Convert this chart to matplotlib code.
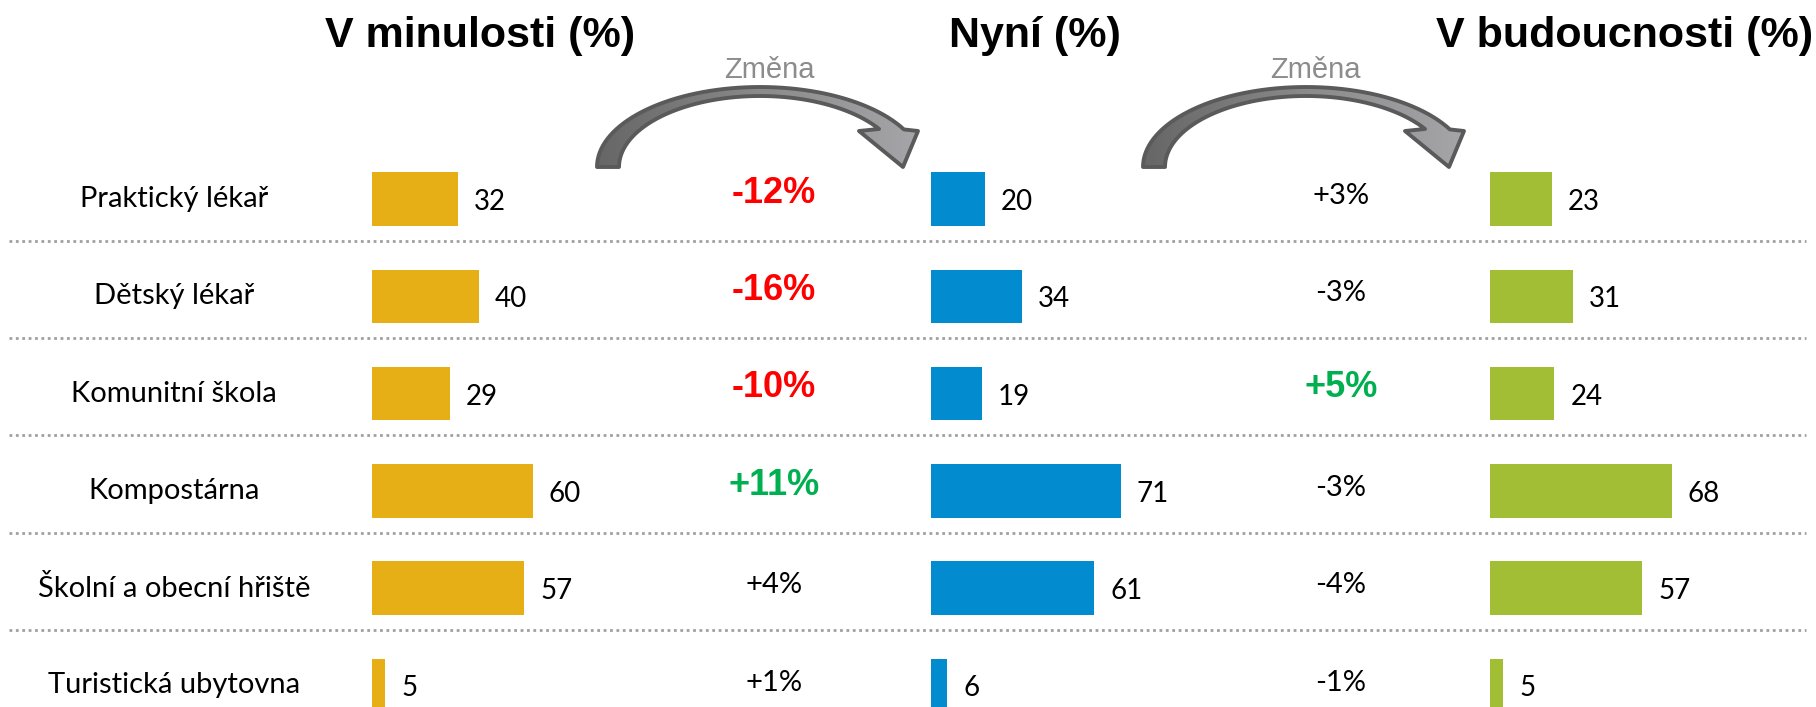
import numpy as np
import matplotlib
matplotlib.use("Agg")
import matplotlib.pyplot as plt
from matplotlib.path import Path
from matplotlib.patches import PathPatch
from matplotlib.colors import LinearSegmentedColormap

# data
categories = ["Praktický lékař", "Dětský lékař", "Komunitní škola",
              "Kompostárna", "Školní a obecní hřiště", "Turistická ubytovna"]
past = [32, 40, 29, 60, 57, 5]
now = [20, 34, 19, 71, 61, 6]
future = [23, 31, 24, 68, 57, 5]
change_past_now = [-12, -16, -10, 11, 4, 1]
change_now_future = [3, -3, 5, -3, -4, -1]
titles = ["V minulosti (%)", "Nyní (%)", "V budoucnosti (%)"]
colors = ["#E6AF16", "#028BCF", "#A2BE34"]

W, H = 1816, 707
fig = plt.figure(figsize=(W / 100, H / 100), dpi=100)

row0_px, row_px = 199, 97.3
top_px = row0_px - row_px / 2
bot_px = row0_px + (len(categories) - 0.5) * row_px
ax_b = 1 - bot_px / H
ax_h = (bot_px - top_px) / H
ylim = (len(categories) - 0.5, -0.5)
ypos = np.arange(len(categories))

# background axes: x in pixels, y in rows
bg = fig.add_axes([0, ax_b, 1, ax_h])
bg.set_xlim(0, W)
bg.set_ylim(*ylim)
bg.axis("off")

for i in range(len(categories) - 1):
    bg.plot([9, 1806], [i + 0.43, i + 0.43], color="#a0a0a0", lw=2,
            linestyle=(0, (1, 1.3)))

label_font = "Lato"
for i, c in enumerate(categories):
    bg.text(174, i, c, ha="center", va="center", fontsize=21, family=label_font)

def draw_changes(vals, xc):
    for i, v in enumerate(vals):
        s = f"{v:+d}%"
        if abs(v) >= 5:
            col = "#FF0000" if v < 0 else "#00B050"
            bg.text(xc, i - 0.06, s, ha="center", va="center", fontsize=26,
                    fontweight="bold", color=col, family="Liberation Sans")
        else:
            bg.text(xc, i - 0.03, s, ha="center", va="center", fontsize=21,
                    color="black", family=label_font)

draw_changes(change_past_now, 774)
draw_changes(change_now_future, 1341)

# bar columns
px_per_unit = 2.675
col_left = [372, 931, 1490]
col_w = 320
for vals, left, col in zip([past, now, future], col_left, colors):
    ax = fig.add_axes([left / W, ax_b, col_w / W, ax_h])
    ax.barh(ypos, vals, height=0.55, color=col)
    ax.set_xlim(0, col_w / px_per_unit)
    ax.set_ylim(*ylim)
    ax.axis("off")
    for i, v in enumerate(vals):
        ax.text(v + 6, i + 0.03, str(v), ha="left", va="center", fontsize=20,
                family=label_font)

# overlay in pixel coords for titles and arrows
ov = fig.add_axes([0, 0, 1, 1])
ov.set_xlim(0, W)
ov.set_ylim(H, 0)
ov.axis("off")

for t, xc in zip(titles, [480, 1035, 1625]):
    ov.text(xc, 36, t, ha="center", va="center", fontsize=31,
            fontweight="bold", family="Liberation Sans")

grey_grad = LinearSegmentedColormap.from_list("g", ["#666666", "#8a8a8a", "#a6a6aa"])


def curved_arrow(dx):
    cx, cy = 760 + dx, 167
    th_o = np.radians(np.linspace(180, 28, 60))
    th_i = np.radians(np.linspace(32.4, 180, 60))
    outer = np.column_stack([cx + 163 * np.cos(th_o), cy - 80 * np.sin(th_o)])
    inner = np.column_stack([cx + 141 * np.cos(th_i), cy - 71 * np.sin(th_i)])
    head = np.array([[918 + dx, 131], [903 + dx, 167], [859 + dx, 131]])
    pts = np.vstack([outer, head, inner, outer[:1]])
    codes = [Path.MOVETO] + [Path.LINETO] * (len(pts) - 2) + [Path.CLOSEPOLY]
    patch = PathPatch(Path(pts, codes), facecolor="none",
                      edgecolor="#5a5a5a", lw=2.8, joinstyle="round", zorder=3)
    ov.add_patch(patch)
    grad = np.linspace(0, 1, 256).reshape(1, -1)
    im = ov.imshow(grad, cmap=grey_grad, aspect="auto",
                   extent=(597 + dx, 920 + dx, 170, 84), zorder=2)
    im.set_clip_path(patch)

for dx in [0, 546]:
    curved_arrow(dx)
    ov.text(769 + dx, 70, "Změna", ha="center", va="center", fontsize=21,
            color="#8c8c8c", family="Liberation Sans")

ov.set_xlim(0, W)
ov.set_ylim(H, 0)

fig.savefig("out.png", dpi=100)
